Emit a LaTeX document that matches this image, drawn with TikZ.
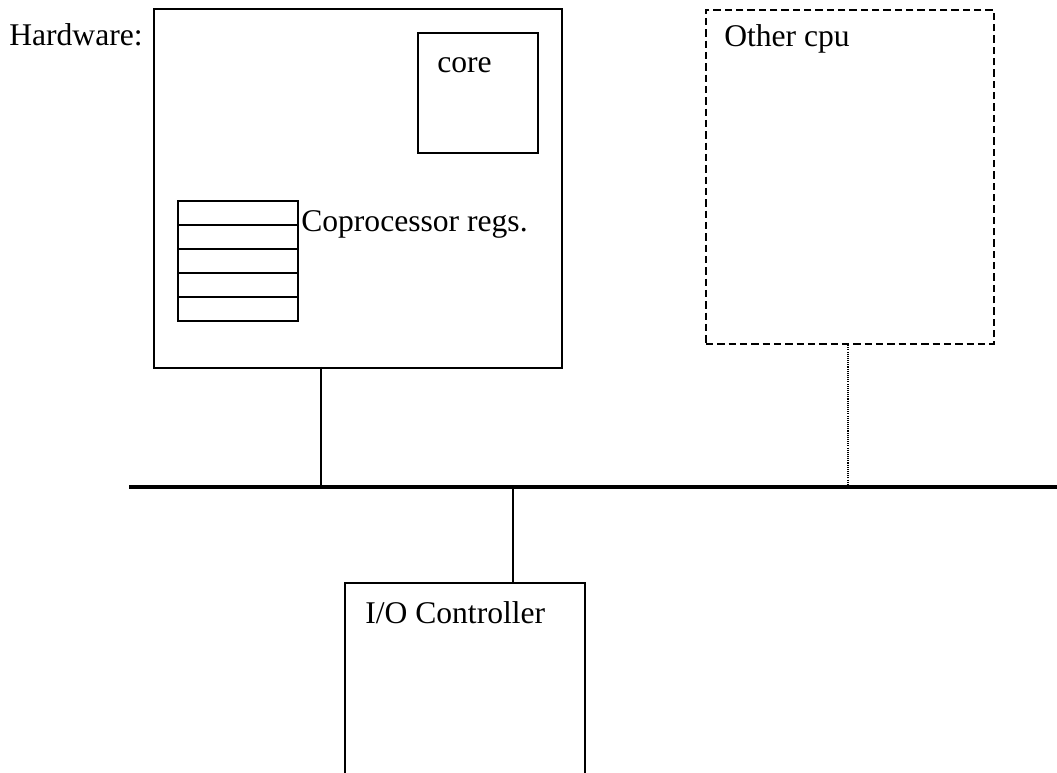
\documentclass[tikz,border=0pt]{standalone}
\usepackage{fontspec}
\setmainfont{Liberation Serif}
\begin{document}
\begin{tikzpicture}[x=0.75pt,y=-0.75pt,
  box/.style={draw,line width=1.4pt,inner sep=0pt,anchor=north west},
  lbl/.style={anchor=base west,inner sep=0pt,font=\fontsize{23.7pt}{28pt}\selectfont},
  wire/.style={line width=1.4pt},
  bus/.style={line width=3pt},
  dashbox/.style={draw,line width=1.4pt,dash pattern=on 5.5pt off 3pt,inner sep=0pt,anchor=north west},
  dotwire/.style={line width=1pt,dash pattern=on 0.8pt off 0.8pt}]
\useasboundingbox (0,0) rectangle (1057,773);
% hardware box
\node[box,minimum width=306pt,minimum height=269.25pt] (hw) at (153,8) {};
\node[lbl] (hwlbl) at (9,46) {Hardware:};
% core
\node[box,minimum width=90pt,minimum height=90pt] (core) at (417,32) {};
\node[lbl] (corelbl) at (437,72.5) {core};
% registers
\foreach \i in {0,...,4}{
  \node[box,minimum width=90pt,minimum height=18pt] (reg\i) at (177,200+24*\i) {};
}
\node[lbl] (reglbl) at (301,232) {Coprocessor regs.};
% other cpu
\node[dashbox,minimum width=216pt,minimum height=250.5pt] (cpu) at (705,9) {};
\node[lbl] (cpulbl) at (724,46.5) {Other cpu};
% bus
\coordinate (busL) at (129,487.5);
\coordinate (busR) at (1057,487.5);
\draw[bus] (busL) -- (busR);
% taps
\coordinate (hwtap) at (321,367);
\draw[wire] (hwtap) -- (hwtap |- busL);
\coordinate (cputap) at (848,343);
\draw[dotwire] (cputap) -- (cputap |- busL);
% I/O controller
\coordinate (ioBL) at (345,773);
\coordinate (ioTL) at (345,583);
\coordinate (ioTR) at (585,583);
\coordinate (ioBR) at (585,773);
\draw[wire] (ioBL) -- (ioTL) -- (ioTR) -- (ioBR);
\coordinate (iotap) at (513,583);
\draw[wire] (iotap) -- (iotap |- busL);
\node[lbl] (iolbl) at (365,623) {I/O Controller};
\end{tikzpicture}
\end{document}
